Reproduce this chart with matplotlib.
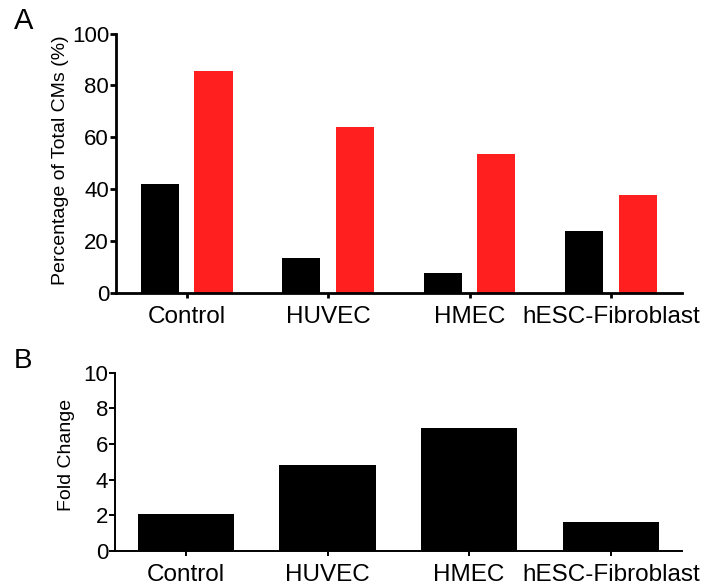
import matplotlib
matplotlib.use("Agg")
import matplotlib.pyplot as plt
import numpy as np

plt.rcParams['font.family'] = ['Liberation Sans', 'DejaVu Sans']

categories = ["Control", "HUVEC", "HMEC", "hESC-Fibroblast"]
pct_black = [42, 13.3, 7.8, 23.8]
pct_red = [85.5, 64, 53.5, 37.8]
fold_change = [2.04, 4.82, 6.9, 1.61]

RED = "#FF1F1F"

fig = plt.figure(figsize=(7.08, 5.88), dpi=100)
axA = fig.add_axes([0.1638, 0.5017, 0.7990, 0.4413])
axB = fig.add_axes([0.1625, 0.0634, 0.8003, 0.3028])

x = np.arange(len(categories))

# Panel A: grouped bars
w = 0.27
axA.bar(x - 0.19, pct_black, width=w, color="black")
axA.bar(x + 0.19, pct_red, width=w, color=RED)
axA.set_ylim(0, 100)
axA.set_yticks([0, 20, 40, 60, 80, 100])
axA.set_ylabel("Percentage of Total CMs (%)", fontsize=14)
axA.yaxis.set_label_coords(-0.083, 0.513)

# Panel B: fold change
axB.bar(x, fold_change, width=0.68, color="black")
axB.set_ylim(0, 10)
axB.set_yticks([0, 2, 4, 6, 8, 10])
axB.set_ylabel("Fold Change", fontsize=14)
axB.yaxis.set_label_coords(-0.07, 0.54)

for ax, lw in ((axA, 2.0), (axB, 1.4)):
    ax.set_xlim(-0.5, 3.5)
    ax.set_xticks(x)
    ax.set_xticklabels(categories)
    for s in ("top", "right"):
        ax.spines[s].set_visible(False)
    for s in ("left", "bottom"):
        ax.spines[s].set_linewidth(lw)
    ax.tick_params(axis="y", direction="out", length=4, width=lw,
                   labelsize=16, pad=1)
    ax.tick_params(axis="x", direction="out", length=3.5, width=lw,
                   labelsize=17.5, pad=6)

fig.text(0.02, 0.951, "A", fontsize=21, ha="left", va="baseline")
fig.text(0.02, 0.374, "B", fontsize=20, ha="left", va="baseline")

fig.savefig("out.png", dpi=100)
